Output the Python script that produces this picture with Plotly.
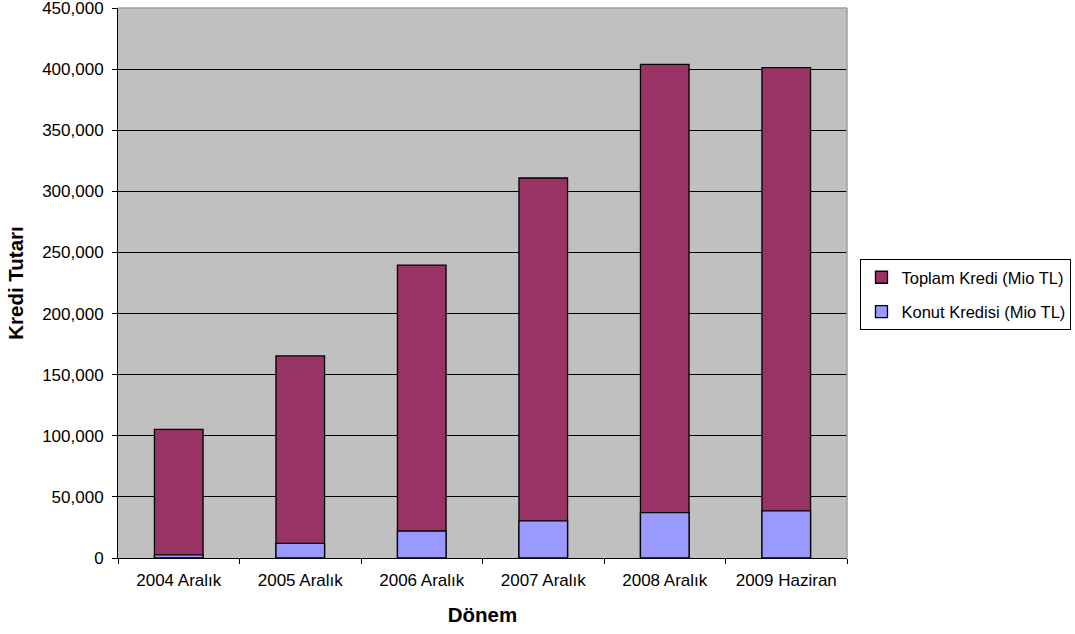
import plotly.graph_objects as go

# Kredi verileri (Mio TL)
donemler = ["2004 Aralık", "2005 Aralık", "2006 Aralık", "2007 Aralık", "2008 Aralık", "2009 Haziran"]
toplam_kredi = [105300, 165300, 239700, 310900, 403900, 401200]
konut_kredisi = [2500, 12000, 22100, 30300, 37100, 38500]
y_tick_vals = [0, 50000, 100000, 150000, 200000, 250000, 300000, 350000, 400000, 450000]

FONT = "Liberation Sans, Arial, sans-serif"

fig = go.Figure()
fig.add_trace(go.Bar(
    x=donemler, y=toplam_kredi, name="Toplam Kredi (Mio TL)",
    legendgroup="toplam",
    marker=dict(color="#993366", line=dict(color="black", width=1.3)),
    width=0.4,
))
fig.add_trace(go.Bar(
    x=donemler, y=konut_kredisi, name="Konut Kredisi (Mio TL)",
    legendgroup="konut",
    marker=dict(color="#9999FF", line=dict(color="black", width=1.3)),
    width=0.4,
))

fig.update_layout(
    barmode="overlay",
    width=1075, height=634,
    margin=dict(l=118, r=228, t=8, b=76, autoexpand=False),
    paper_bgcolor="white",
    plot_bgcolor="#C0C0C0",
    font=dict(family=FONT, size=17, color="black"),
    showlegend=True,
    legend=dict(
        x=1.0185, y=0.5436, xanchor="left", yanchor="top",
        bordercolor="black", borderwidth=1, bgcolor="white",
        font=dict(size=16.5), traceorder="grouped", tracegroupgap=10,
    ),
    xaxis=dict(
        title=dict(text="<b>Dönem</b>", font=dict(size=20.5), standoff=18),
        showline=True, linecolor="black", linewidth=1,
        ticks="outside", ticklen=5, tickcolor="black",
        ticklabelstandoff=7, automargin=False,
        tickson="boundaries", showgrid=False,
    ),
    yaxis=dict(
        title=dict(text="<b>Kredi Tutarı</b>", font=dict(size=20.5), standoff=12),
        range=[0, 450000], tickvals=y_tick_vals, tickformat=",d",
        ticklabeloverflow="allow", automargin=False,
        showline=True, linecolor="black", linewidth=1,
        ticks="outside", ticklen=5, tickcolor="black",
        ticklabelstandoff=5,
        gridcolor="black", gridwidth=1, zeroline=False,
    ),
)

# gray frame on the top and right edges of the plot area
fig.add_shape(type="line", xref="paper", yref="paper", x0=0, x1=1, y0=1, y1=1,
              line=dict(color="#A0A0A0", width=1.5), layer="above")
fig.add_shape(type="line", xref="paper", yref="paper", x0=1, x1=1, y0=0, y1=1,
              line=dict(color="#A0A0A0", width=1.5), layer="above")

fig.write_html("out.html")
